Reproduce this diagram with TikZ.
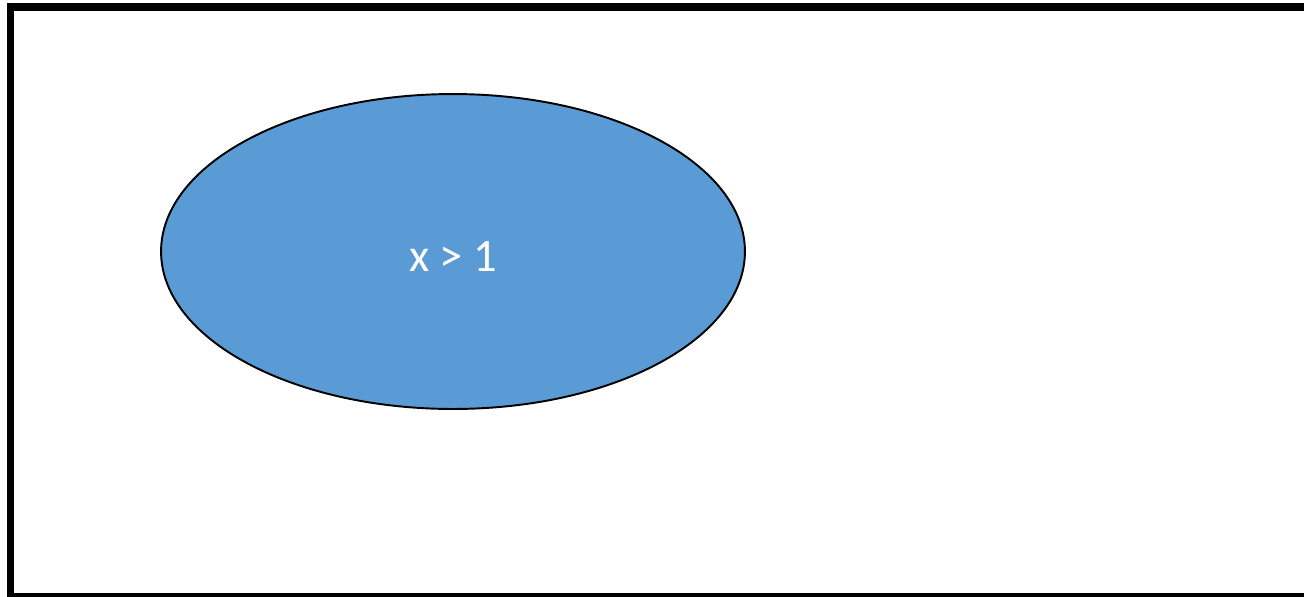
\documentclass[tikz,border=0pt]{standalone}
\usepackage{fontspec}
\setsansfont{Carlito}
\usepackage{xcolor}
\definecolor{condblue}{HTML}{5B9BD5}
\usepackage{tikz}
\usetikzlibrary{shapes.geometric}

\begin{document}
\begin{tikzpicture}[
  x=0.02cm, y=-0.02cm,
  frame/.style={draw=black, line width=4.2pt},
  condbox/.style={ellipse, draw=black, line width=1.1pt, fill=condblue, text=white,
    minimum width=11.68cm, minimum height=6.3cm, inner sep=0pt,
    text height=23pt, text depth=0pt, font=\sffamily\fontsize{26.5}{30}\selectfont},
]
  % page size
  \useasboundingbox (0,0) rectangle (1304,596);
  \clip (0,0) rectangle (1304,596);

  % outer frame (runs off the right and bottom)
  \draw[frame] (10.5,7) rectangle (1320,597);

  % condition
  \node[condbox] (cond) at (453,251.5) {x > 1};
\end{tikzpicture}
\end{document}
